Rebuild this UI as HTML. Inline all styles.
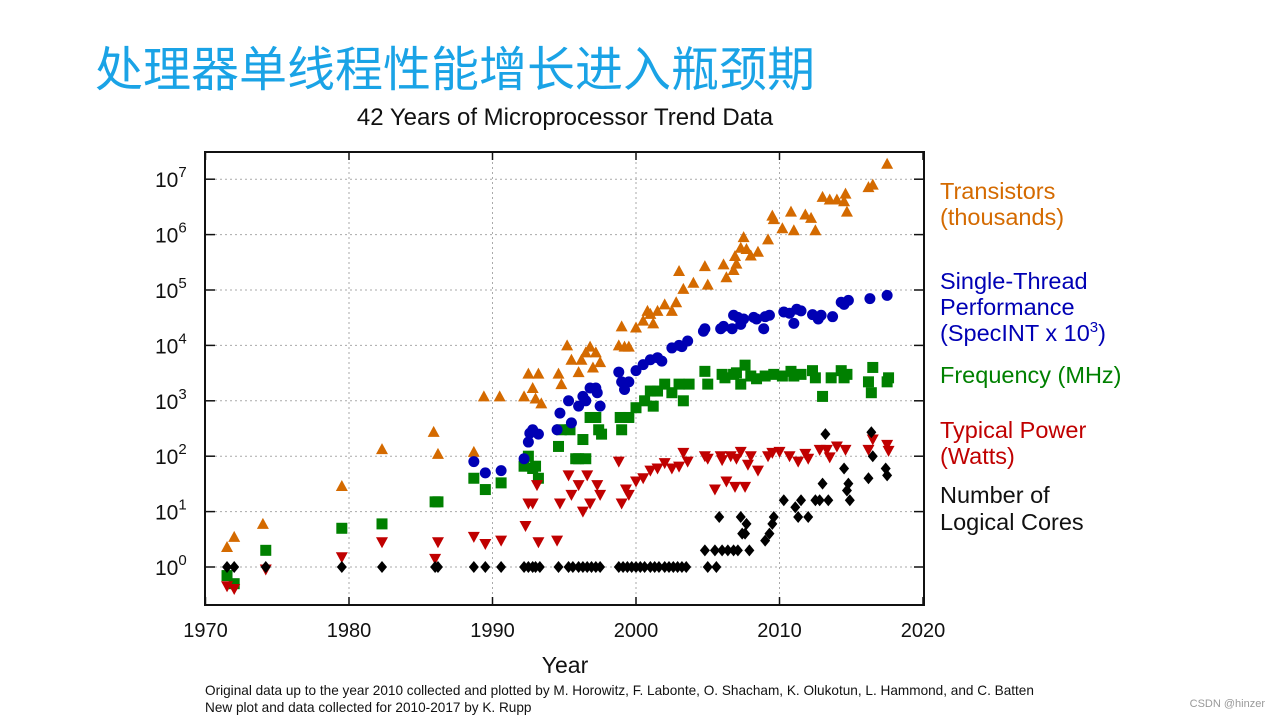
<!DOCTYPE html>
<html><head><meta charset="utf-8">
<style>
html,body{margin:0;padding:0;background:#fff;width:1279px;height:718px;overflow:hidden}
svg{position:absolute;left:0;top:0}
text{font-family:"Liberation Sans","Noto Sans CJK SC",sans-serif}
</style></head>
<body>
<svg id="chart" width="1279" height="718">
<text x="95" y="86" font-size="48" fill="#1aa3e6">处理器单线程性能增长进入瓶颈期</text>
<text x="565" y="125" font-size="24" text-anchor="middle" fill="#111">42 Years of Microprocessor Trend Data</text>
<g id="grid"></g>
<rect x="205" y="152" width="719" height="453" fill="none" stroke="#111" stroke-width="2"/>
<g id="marks"></g>
<g id="axes"></g>
<text x="565" y="673" font-size="23" text-anchor="middle" fill="#111">Year</text>
<g font-size="23.5">
<text x="940" y="199" fill="#d46a00">Transistors</text>
<text x="940" y="225" fill="#d46a00">(thousands)</text>
<text x="940" y="289" fill="#0000b4">Single-Thread</text>
<text x="940" y="315" fill="#0000b4">Performance</text>
<text x="940" y="341" fill="#0000b4">(SpecINT x 10<tspan dy="-9" font-size="15">3</tspan><tspan dy="9">)</tspan></text>
<text x="940" y="383" fill="#008000">Frequency (MHz)</text>
<text x="940" y="438" fill="#c00000">Typical Power</text>
<text x="940" y="464" fill="#c00000">(Watts)</text>
<text x="940" y="503" fill="#111">Number of</text>
<text x="940" y="530" fill="#111">Logical Cores</text>
</g>
<text x="205" y="695" font-size="13.6" fill="#111">Original data up to the year 2010 collected and plotted by M. Horowitz, F. Labonte, O. Shacham, K. Olukotun, L. Hammond, and C. Batten</text>
<text x="205" y="712" font-size="13.6" fill="#111">New plot and data collected for 2010-2017 by K. Rupp</text>
<text x="1265" y="707" font-size="11" fill="#999" text-anchor="end">CSDN @hinzer</text>
</svg>
<script>
const xTicks=[1970,1980,1990,2000,2010,2020];
const yExps=[0,1,2,3,4,5,6,7];
const transYears=[1971.5,1972,1974,1979.5,1982.3,1985.9,1986.2,1988.7,1989.4,1990.5,1992.2,1992.5,1992.8,1993,1993.2,1993.4,1994.6,1994.8,1995.2,1995.5,1996,1996.2,1996.5,1996.8,1997,1997.2,1997.5,1998.8,1999,1999.2,1999.5,2000,2000.5,2000.8,2001,2001.2,2001.5,2002,2002.5,2002.8,2003,2003.3,2004,2004.8,2005,2006.1,2006.3,2006.8,2006.9,2007,2007.3,2007.5,2007.7,2008,2008.5,2009.2,2009.5,2009.6,2010.2,2010.8,2011,2011.8,2012.2,2012.5,2013,2013.5,2014,2014.5,2014.6,2014.7,2016.2,2016.5,2017.5];
const transVals=[2.3,3.5,6,29,134,275,110,120,1200,1200,1200,3100,1700,1100,3100,900,3100,2000,10000,5500,3300,5500,7500,9500,4000,7500,5000,10000,22000,9500,9500,21000,28000,42000,37000,25000,42000,55000,42000,60000,220000,105000,135000,270000,125000,290000,170000,230000,410000,300000,580000,900000,550000,420000,490000,820000,2200000,1900000,1300000,2600000,1200000,2300000,2000000,1200000,4800000,4300000,4300000,4000000,5500000,2600000,7200000,8000000,19000000];
const perfYears=[1988.7,1989.5,1990.6,1992.2,1992.5,1992.6,1992.8,1993.2,1994.5,1994.7,1995.3,1995.5,1996,1996.3,1996.5,1996.8,1997.2,1997.3,1997.5,1998.8,1999,1999.2,1999.5,2000,2000.5,2001,2001.5,2001.8,2002.5,2003,2003.2,2003.6,2004.7,2004.8,2005.9,2006.1,2006.7,2006.8,2007.1,2007.3,2007.5,2008.2,2008.4,2008.9,2009,2009.3,2010.3,2010.7,2011,2011.2,2011.5,2012.3,2012.7,2012.9,2013.7,2014.3,2014.5,2014.8,2016.3,2017.5];
const perfVals=[80,50,55,90,180,260,300,250,300,600,1000,400,800,1200,1000,1700,1700,1400,800,3300,2200,1600,2200,3500,4500,5500,6000,5200,9000,10000,9500,12000,18000,20000,20000,22000,20000,35000,32000,24000,30000,32000,30000,20000,33000,35000,40000,38000,25000,45000,42000,36000,30000,35000,33000,60000,55000,65000,70000,80000];
const freqYears=[1971.5,1972,1974.2,1979.5,1982.3,1986,1986.2,1988.7,1989.5,1990.6,1992.2,1992.5,1992.8,1993,1993.2,1994.6,1994.8,1995.4,1995.8,1996,1996.3,1996.5,1996.8,1997.2,1997.4,1997.6,1998.9,1999,1999.5,2000,2000.6,2001,2001.2,2001.5,2002,2002.5,2003,2003.3,2003.7,2004.8,2005,2006,2006.2,2006.8,2007,2007.3,2007.6,2008,2008.4,2009,2009.6,2010.2,2010.8,2011,2011.5,2012.3,2012.5,2013,2013.6,2014.3,2014.5,2014.7,2016.2,2016.5,2016.4,2017.5,2017.6];
const freqVals=[0.7,0.5,2,5,6,15,15,40,25,33,66,100,60,66,40,150,300,300,90,90,200,90,500,500,300,250,500,300,500,750,1000,1500,800,1500,2000,1400,2000,1000,2000,3400,2000,3000,2600,3000,3200,2000,4400,2800,2500,2800,3000,2800,3400,2800,3000,3500,2600,1200,2600,3500,2600,3000,2200,4000,1400,2200,2600];
const powYears=[1971.5,1972,1974.2,1979.5,1982.3,1986,1986.2,1988.7,1989.5,1990.6,1992.3,1992.5,1992.8,1993.1,1993.2,1994.5,1994.7,1995.3,1995.5,1996,1996.3,1996.6,1996.8,1997.3,1997.5,1998.8,1999,1999.3,1999.5,2000,2000.5,2001,2001.5,2002,2002.5,2003,2003.3,2003.6,2004.8,2005,2005.5,2005.9,2006,2006.3,2006.6,2006.9,2007,2007.3,2007.6,2007.8,2008,2008.5,2009.2,2009.5,2010,2010.7,2011.3,2011.8,2012,2012.8,2013.3,2013.5,2014,2014.6,2016.2,2016.5,2017.5,2017.6];
const powVals=[0.45,0.4,0.9,1.5,2.8,1.4,2.8,3.5,2.6,3,5.5,14,14,30,2.8,3,14,45,20,30,10,45,14,30,20,80,14,25,20,35,40,55,60,75,60,65,115,80,100,90,25,100,85,35,100,28,90,120,28,70,100,55,100,115,120,100,80,110,90,130,130,95,150,130,130,200,160,125];
const coreYears=[1971.5,1972,1974.2,1979.5,1982.3,1986,1986.2,1988.7,1989.5,1990.6,1992.2,1992.5,1992.8,1993,1993.3,1994.6,1995.3,1995.6,1996,1996.3,1996.6,1996.9,1997.2,1997.5,1998.8,1999.1,1999.4,1999.7,2000,2000.3,2000.6,2001,2001.3,2001.6,2002,2002.3,2002.6,2002.9,2003.2,2003.5,2004.8,2005.5,2005,2005.6,2005.8,2006,2006.4,2006.8,2007.1,2007.3,2007.4,2007.6,2007.7,2007.9,2009,2009.3,2009.5,2009.6,2010.3,2011.1,2011.3,2011.5,2012,2012.5,2012.8,2013.2,2013,2013.4,2014.5,2014.7,2014.8,2014.9,2016.2,2016.5,2016.4,2017.4,2017.5];
const coreVals=[1,1,1,1,1,1,1,1,1,1,1,1,1,1,1,1,1,1,1,1,1,1,1,1,1,1,1,1,1,1,1,1,1,1,1,1,1,1,1,1,2,2,1,1,8,2,2,2,2,8,4,4,6,2,3,4,6,8,16,12,8,16,8,16,16,250,32,16,60,24,32,16,40,100,270,60,45];

const X0=205.5,PX=14.35,Y0=567,PD=55.4;
const xs=y=>X0+(y-1970)*PX;
const ys=v=>Y0-Math.log10(v)*PD;
const NS='http://www.w3.org/2000/svg';
function mk(tag,attrs,parent){const e=document.createElementNS(NS,tag);for(const k in attrs)e.setAttribute(k,attrs[k]);parent.appendChild(e);return e;}
const grid=document.getElementById('grid'),axes=document.getElementById('axes'),marks=document.getElementById('marks');
xTicks.forEach(t=>{
  const x=xs(t);
  if(t>1970&&t<2020){const l=mk('line',{x1:x,x2:x,y1:152,y2:605,stroke:'#aaa','stroke-dasharray':'2,3'},grid);
  
  }
  mk('line',{x1:x,x2:x,y1:152,y2:160,stroke:'#111','stroke-width':1.5},axes);
  mk('line',{x1:x,x2:x,y1:597,y2:605,stroke:'#111','stroke-width':1.5},axes);
  const tx=mk('text',{x:x,y:637,'font-size':20,'text-anchor':'middle',fill:'#111'},axes);
  tx.textContent=t;
  
  
});
yExps.forEach(e=>{
  const y=Y0-e*PD;
  const l=mk('line',{x1:205,x2:924,y1:y,y2:y,stroke:'#aaa','stroke-dasharray':'2,3'},grid);
  
  
  mk('line',{x1:205,x2:215,y1:y,y2:y,stroke:'#111','stroke-width':1.5},axes);
  mk('line',{x1:914,x2:924,y1:y,y2:y,stroke:'#111','stroke-width':1.5},axes);
  const tx=mk('text',{x:155,y:y+8,'font-size':21,fill:'#111'},axes);
  tx.innerHTML='10<tspan dy="-10" font-size="15">'+e+'</tspan>';
  
  
});
function series(years,vals,shape,color,name){
  years.forEach((yr,i)=>{
    const x=xs(yr),y=ys(vals[i]);let el;
    if(shape==='tri')el=mk('polygon',{points:`${x},${y-6} ${x-6},${y+5} ${x+6},${y+5}`,fill:color},marks);
    else if(shape==='itri')el=mk('polygon',{points:`${x},${y+6} ${x-6},${y-5} ${x+6},${y-5}`,fill:color},marks);
    else if(shape==='circ')el=mk('circle',{cx:x,cy:y,r:5.5,fill:color},marks);
    else if(shape==='sq')el=mk('rect',{x:x-5.5,y:y-5.5,width:11,height:11,fill:color},marks);
    else el=mk('polygon',{points:`${x},${y-6} ${x+5},${y} ${x},${y+6} ${x-5},${y}`,fill:color},marks);
    
    
  });
}
series(transYears,transVals,'tri','#d46a00','transistor-point');
series(freqYears,freqVals,'sq','#008000','frequency-point');
series(perfYears,perfVals,'circ','#0000b4','single-thread-point');
series(powYears,powVals,'itri','#c00000','power-point');
series(coreYears,coreVals,'dia','#000','cores-point');
</script>
</body></html>
